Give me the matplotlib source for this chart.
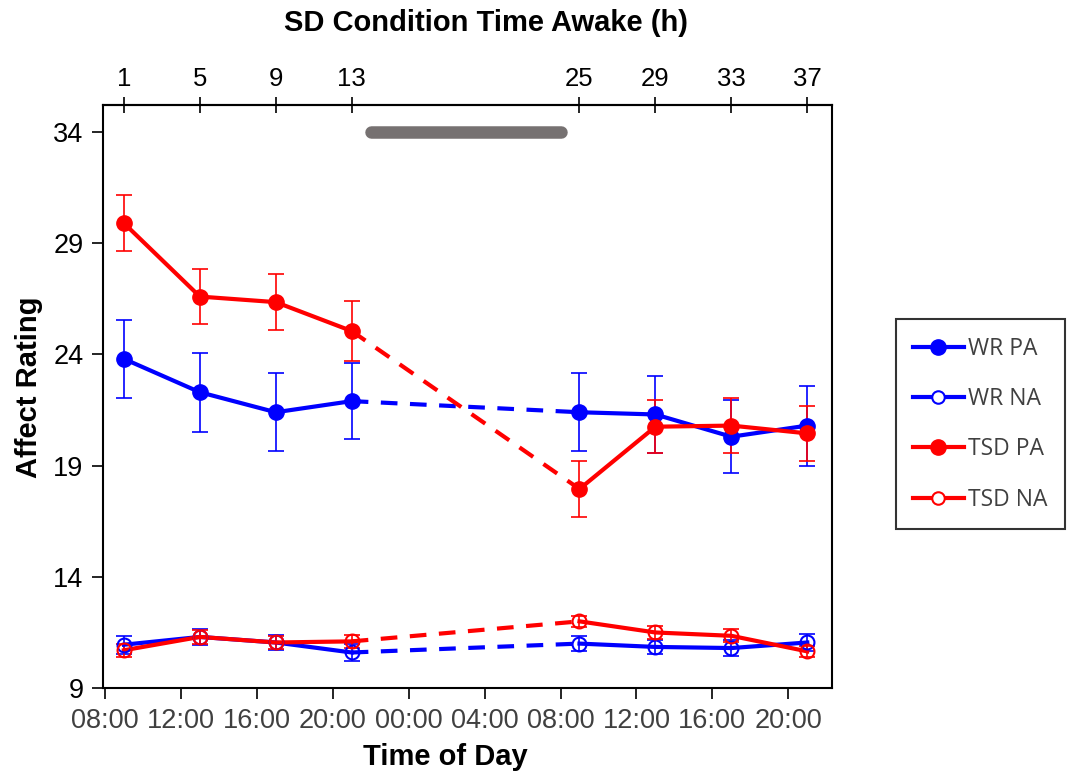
import matplotlib
matplotlib.use('Agg')
import matplotlib.pyplot as plt
import numpy as np

# hours since 08:00 on day 1 (= time awake in SD condition)
hours = [1, 5, 9, 13, 25, 29, 33, 37]
day_ticks = [0, 4, 8, 12, 16, 20, 24, 28, 32, 36]
day_labels = ['08:00', '12:00', '16:00', '20:00', '00:00', '04:00',
              '08:00', '12:00', '16:00', '20:00']
awake_labels = ['1', '5', '9', '13', '25', '29', '33', '37']

wr_pa = [23.8, 22.3, 21.4, 21.9, 21.4, 21.3, 20.3, 20.8]
wr_pa_err = [1.75, 1.77, 1.75, 1.7, 1.75, 1.73, 1.65, 1.8]
wr_na = [10.95, 11.3, 11.05, 10.6, 11.0, 10.85, 10.8, 11.05]
wr_na_err = [0.4, 0.35, 0.35, 0.4, 0.35, 0.3, 0.35, 0.4]
tsd_pa = [29.9, 26.6, 26.35, 25.05, 17.95, 20.75, 20.8, 20.45]
tsd_pa_err = [1.25, 1.25, 1.25, 1.35, 1.25, 1.2, 1.25, 1.25]
tsd_na = [10.7, 11.3, 11.05, 11.1, 12.0, 11.5, 11.35, 10.65]
tsd_na_err = [0.3, 0.3, 0.3, 0.3, 0.25, 0.3, 0.3, 0.25]

sleep_bar = [14, 24]   # overnight sleep deprivation period
sleep_y = 34

fig = plt.figure(figsize=(10.71, 7.74), dpi=100)
ax = fig.add_axes([0.0962, 0.111, 0.6806, 0.753])

series = [
    ('WR PA', wr_pa, wr_pa_err, '#0000ff', True),
    ('WR NA', wr_na, wr_na_err, '#0000ff', False),
    ('TSD PA', tsd_pa, tsd_pa_err, '#ff0000', True),
    ('TSD NA', tsd_na, tsd_na_err, '#ff0000', False),
]

handles = []
for name, vals, err, col, filled in series:
    x = np.array(hours)
    v = np.array(vals)
    ax.errorbar(x, v, yerr=err, fmt='none', ecolor=col, elinewidth=1.4,
                capsize=6, capthick=1.4, alpha=0.85, zorder=2)
    for seg in (slice(0, 4), slice(4, 8)):
        ax.plot(x[seg], v[seg], color=col, lw=3, zorder=3)
    ax.plot(x[3:5], v[3:5], color=col, lw=3, ls=(0, (4, 3)), zorder=3)
    if filled:
        ax.plot(x, v, 'o', color=col, ms=11, zorder=4)
        h, = ax.plot([], [], '-o', color=col, lw=3, ms=11)
    else:
        ax.plot(x, v, 'o', mfc='none', mec=col, mew=1.5, ms=10, zorder=4)
        h, = ax.plot([], [], '-o', color=col, lw=3, mfc='white', mec=col,
                     mew=1.5, ms=9)
    handles.append((h, name))

ax.plot(sleep_bar, [sleep_y, sleep_y], color='#767171', lw=9,
        solid_capstyle='round', zorder=5)

ax.set_xlim(-0.1, 38.3)
ax.set_ylim(9, 35.2)
ax.set_yticks([9, 14, 19, 24, 29, 34])
ax.set_xticks(day_ticks)
ax.set_xticklabels(day_labels, color='#404040')
for sp in ax.spines.values():
    sp.set_linewidth(1.5)
ax.tick_params(axis='x', direction='out', length=8, width=1.2,
               labelsize=19.5, pad=6, labelfontfamily='Liberation Sans')
ax.tick_params(axis='y', direction='out', length=8, width=1.2,
               labelsize=19.5, pad=6, labelfontfamily='Liberation Sans')

top = ax.secondary_xaxis('top')
top.set_xticks(hours)
top.set_xticklabels(awake_labels)
top.tick_params(direction='inout', length=12, width=1.2, labelsize=18.5,
                pad=4, labelfontfamily='Liberation Sans')
top.spines['top'].set_linewidth(1.5)

fig.text(0.454, 0.970, 'SD Condition Time Awake (h)', ha='center',
         va='center', fontsize=21, fontweight='bold', family='Liberation Sans')
fig.text(0.416, 0.022, 'Time of Day', ha='center', va='center',
         fontsize=21, fontweight='bold', family='Liberation Sans')
fig.text(0.027, 0.50, 'Affect Rating', ha='center', va='center',
         rotation=90, fontsize=21, fontweight='bold', family='Liberation Sans')

leg = fig.legend([h for h, _ in handles], [n for _, n in handles],
                 loc='center', bbox_to_anchor=(0.9155, 0.452),
                 frameon=True, fancybox=False, edgecolor='black',
                 labelspacing=1.15, handlelength=2.2, handletextpad=0.2,
                 borderpad=0.75, prop={'family': 'Open Sans', 'size': 16.5})
leg.get_frame().set_linewidth(1.5)
for t in leg.get_texts():
    t.set_color('#404040')

fig.savefig('out.png', dpi=100)
